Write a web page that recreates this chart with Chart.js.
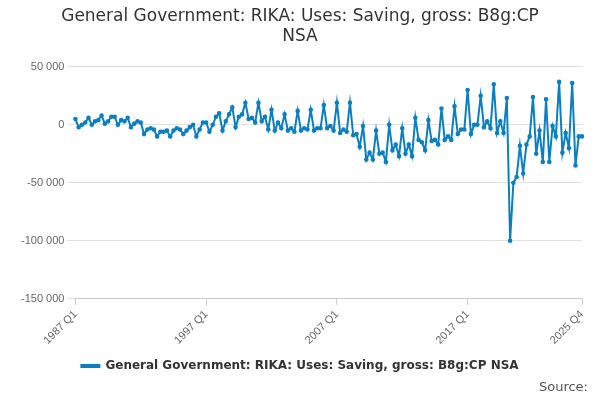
<!DOCTYPE html><html><head><meta charset="utf-8"><script src="https://cdn.jsdelivr.net/npm/chart.js@4"></script>
<style>body{margin:0;width:600px;height:400px;font-family:"DejaVu Sans",sans-serif;position:relative}#w{position:absolute;left:0;top:0;width:600px;height:400px}#src{position:absolute;right:12px;bottom:6px;font-size:13px;color:#555}</style></head><body>
<div id="w"><canvas id="c"></canvas></div><div id="src">Source:</div>
<script>
const years=[];for(let y=1987;y<=2025;y++)years.push(y);
const labels=[];years.forEach(y=>{for(let q=1;q<=4;q++)labels.push(y+" Q"+q);});
const values=[5000,-2000,0,2000,6000,0,3000,4000,8000,1000,3000,7000,7000,0,4000,3000,
6000,-2000,1000,3000,2000,-8000,-4000,-3000,-4000,-10000,-6000,-6000,-5000,-10000,-5000,-3000,
-4000,-8000,-5000,-2000,0,-10000,-4000,2000,2000,-6000,0,7000,10000,-5000,3000,9000,
15000,-2000,7000,9000,19000,5000,6000,2000,19000,3000,7000,-4000,13000,-5000,2000,-3000,
9000,-5000,-3000,-6000,12000,-5000,-3000,-4000,13000,-5000,-3000,-3000,17000,-3000,-1000,-5000,
19000,-7000,-4000,-6000,19000,-9000,-8000,-19000,-1000,-30000,-24000,-30000,-5000,-25000,-24000,-32000,
0,-22000,-17000,-27000,-3000,-25000,-17000,-27000,6000,-13000,-15000,-22000,4000,-14000,-13000,-17000,
14000,-13000,-10000,-13000,16000,-8000,-4000,-4000,30000,-8000,0,0,25000,-2000,3000,-3000,
35000,-7000,3000,-7000,23000,-100000,-50000,-45000,-18000,-42000,-17000,-10000,24000,-25000,-5000,-32000,
22000,-32000,-1000,-10000,37000,-24000,-7000,-20000,36000,-35000,-10000,-10000];
const shown=["1987 Q1","1997 Q1","2007 Q1","2017 Q1","2025 Q4"];
new Chart(document.getElementById('c'),{type:'line',data:{labels,datasets:[{label:'General Government: RIKA: Uses: Saving, gross: B8g:CP NSA',data:values,borderColor:'#0a7fc2',backgroundColor:'#0a7fc2',borderWidth:2,pointRadius:1.3,tension:0}]},
options:{responsive:true,maintainAspectRatio:false,animation:false,layout:{padding:{left:18,right:18,bottom:18}},
plugins:{title:{display:true,text:['General Government: RIKA: Uses: Saving, gross: B8g:CP','NSA'],font:{size:17,weight:'normal',family:'DejaVu Sans'},color:'#333',padding:{top:6,bottom:20}},
legend:{position:'bottom',labels:{boxWidth:18,boxHeight:2,font:{size:12,weight:'bold',family:'DejaVu Sans'},color:'#333'}}},
scales:{x:{grid:{display:true,drawOnChartArea:false,drawTicks:true,tickLength:6,color:'#ccc'},border:{color:'#ccc'},ticks:{autoSkip:false,maxRotation:45,minRotation:45,font:{size:11},color:'#666',callback:function(v){const l=labels[v];return shown.includes(l)?l:null;}}},
y:{min:-150000,max:50000,ticks:{stepSize:50000,font:{size:11},color:'#666',callback:v=>v.toString().replace(/\B(?=(\d{3})+(?!\d))/g,' ')},grid:{color:'#e0e0e0'},border:{display:false}}}}});
</script></body></html>
